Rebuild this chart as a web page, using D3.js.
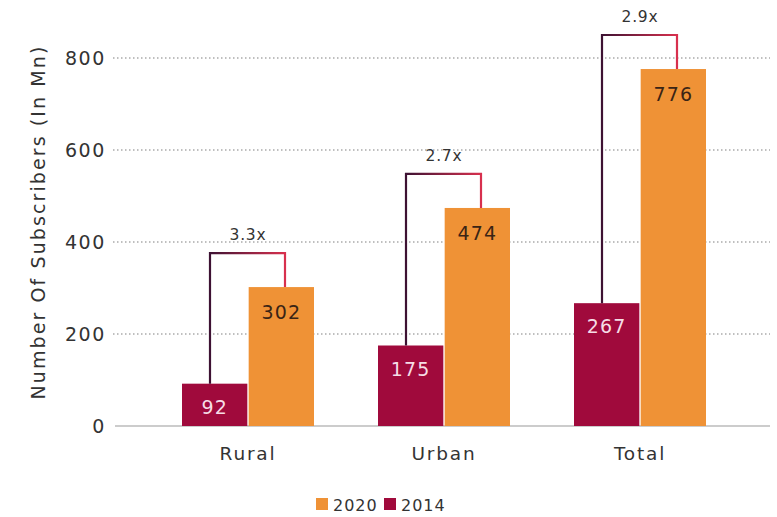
<!DOCTYPE html>
<html>
<head>
<meta charset="utf-8">
<script src="https://cdn.jsdelivr.net/npm/d3@7"></script>
<style>
  html, body { margin: 0; padding: 0; background: #fff; }
  svg { display: block; font-family: "DejaVu Sans", "Noto Sans", sans-serif; }
</style>
</head>
<body>
<svg id="chart" width="777" height="517"></svg>
<script>
// Subscriber counts (in millions) by area
const categories = ["Rural", "Urban", "Total"];
const values2014 = [92, 175, 267];
const values2020 = [302, 474, 776];
const growthLabels = ["3.3x", "2.7x", "2.9x"];
const yTicks = [0, 200, 400, 600, 800];
const seriesNames = ["2020", "2014"];

const colors = { "2014": "#a00a3c", "2020": "#ef9236" };
const textColor = "#333";

const svg = d3.select("#chart");
const plot = { left: 113, right: 770, top: 58, bottom: 426 };

const y = d3.scaleLinear().domain([0, 800]).range([plot.bottom, plot.top]);
const x = d3.scaleBand().domain(categories).range([150, 738]).padding(0);
const inner = d3.scaleBand().domain(["2014", "2020"]).range([-66, 66]).paddingInner(0.02);

// Gradient for the growth brackets
const defs = svg.append("defs");
const grad = defs.append("linearGradient").attr("id", "bracketGrad")
  .attr("x1", "0%").attr("x2", "100%").attr("y1", "0%").attr("y2", "0%");
grad.append("stop").attr("offset", "0%").attr("stop-color", "#3d1233");
grad.append("stop").attr("offset", "100%").attr("stop-color", "#d8304e");

// Y axis tick labels
const yAxis = d3.axisLeft(y).tickValues(yTicks).tickSize(0).tickPadding(7);
const gAxis = svg.append("g").attr("transform", `translate(${plot.left},0)`).call(yAxis);
gAxis.select(".domain").remove();
gAxis.selectAll("text")
  .attr("font-family", "DejaVu Sans, sans-serif")
  .attr("font-size", 19).attr("letter-spacing", 1.6).attr("fill", textColor);

// Dotted grid lines
svg.append("g").selectAll("line")
  .data(yTicks.filter(d => d > 0))
  .join("line")
  .attr("x1", plot.left).attr("x2", plot.right)
  .attr("y1", d => y(d)).attr("y2", d => y(d))
  .attr("stroke", "#aaa").attr("stroke-width", 1.3)
  .attr("stroke-dasharray", "1.5,2.5");

// Baseline
svg.append("line")
  .attr("x1", plot.left + 2).attr("x2", plot.right)
  .attr("y1", y(0)).attr("y2", y(0))
  .attr("stroke", "#999").attr("stroke-width", 1.2);

// Y axis title
svg.append("text")
  .attr("transform", `translate(45,${(plot.top + plot.bottom) / 2 - 20}) rotate(-90)`)
  .attr("text-anchor", "middle")
  .attr("font-size", 19).attr("letter-spacing", 2.1).attr("fill", textColor)
  .text("Number Of Subscribers (In Mn)");

// Bars
const groups = svg.append("g").selectAll("g")
  .data(categories.map((c, i) => ({ c, v14: values2014[i], v20: values2020[i], g: growthLabels[i] })))
  .join("g")
  .attr("transform", d => `translate(${x(d.c) + x.bandwidth() / 2},0)`);

groups.append("rect")
  .attr("x", inner("2014")).attr("width", inner.bandwidth())
  .attr("y", d => y(d.v14)).attr("height", d => y(0) - y(d.v14))
  .attr("fill", colors["2014"]);

groups.append("rect")
  .attr("x", inner("2020")).attr("width", inner.bandwidth())
  .attr("y", d => y(d.v20)).attr("height", d => y(0) - y(d.v20))
  .attr("fill", colors["2020"]);

// Value labels inside the bars
groups.append("text")
  .attr("x", inner("2014") + inner.bandwidth() / 2)
  .attr("y", d => y(d.v14) + 30)
  .attr("text-anchor", "middle").attr("font-size", 19).attr("letter-spacing", 1.2)
  .attr("fill", "#f6dde6")
  .text(d => d.v14);

groups.append("text")
  .attr("x", inner("2020") + inner.bandwidth() / 2)
  .attr("y", d => y(d.v20) + 32)
  .attr("text-anchor", "middle").attr("font-size", 19).attr("letter-spacing", 1.2)
  .attr("fill", "#3a2415")
  .text(d => d.v20);

// Growth brackets joining each pair of bars
const bracketOffset = 74;
groups.append("path")
  .attr("d", d => {
    const top = y(d.v20 + bracketOffset);
    return `M-38,${y(d.v14)} V${top} H37 V${y(d.v20)}`;
  })
  .attr("fill", "none").attr("stroke", "url(#bracketGrad)").attr("stroke-width", 2.2);

groups.append("text")
  .attr("x", 0)
  .attr("y", d => y(d.v20 + bracketOffset) - 13)
  .attr("text-anchor", "middle").attr("font-size", 15.5).attr("letter-spacing", 0.8)
  .attr("fill", textColor)
  .text(d => d.g);

// Category labels
groups.append("text")
  .attr("x", 0).attr("y", y(0) + 34)
  .attr("text-anchor", "middle").attr("font-size", 18.5).attr("letter-spacing", 1.8)
  .attr("fill", textColor)
  .text(d => d.c);

// Legend
const legend = svg.append("g").attr("transform", "translate(316,498)");
const legendItems = legend.selectAll("g").data(seriesNames).join("g")
  .attr("transform", (d, i) => `translate(${i * 68},0)`);
legendItems.append("rect").attr("width", 12).attr("height", 12).attr("fill", d => colors[d]);
legendItems.append("text").attr("x", 17).attr("y", 12.5)
  .attr("font-size", 16).attr("letter-spacing", 1).attr("fill", textColor).text(d => d);
</script>
</body>
</html>
